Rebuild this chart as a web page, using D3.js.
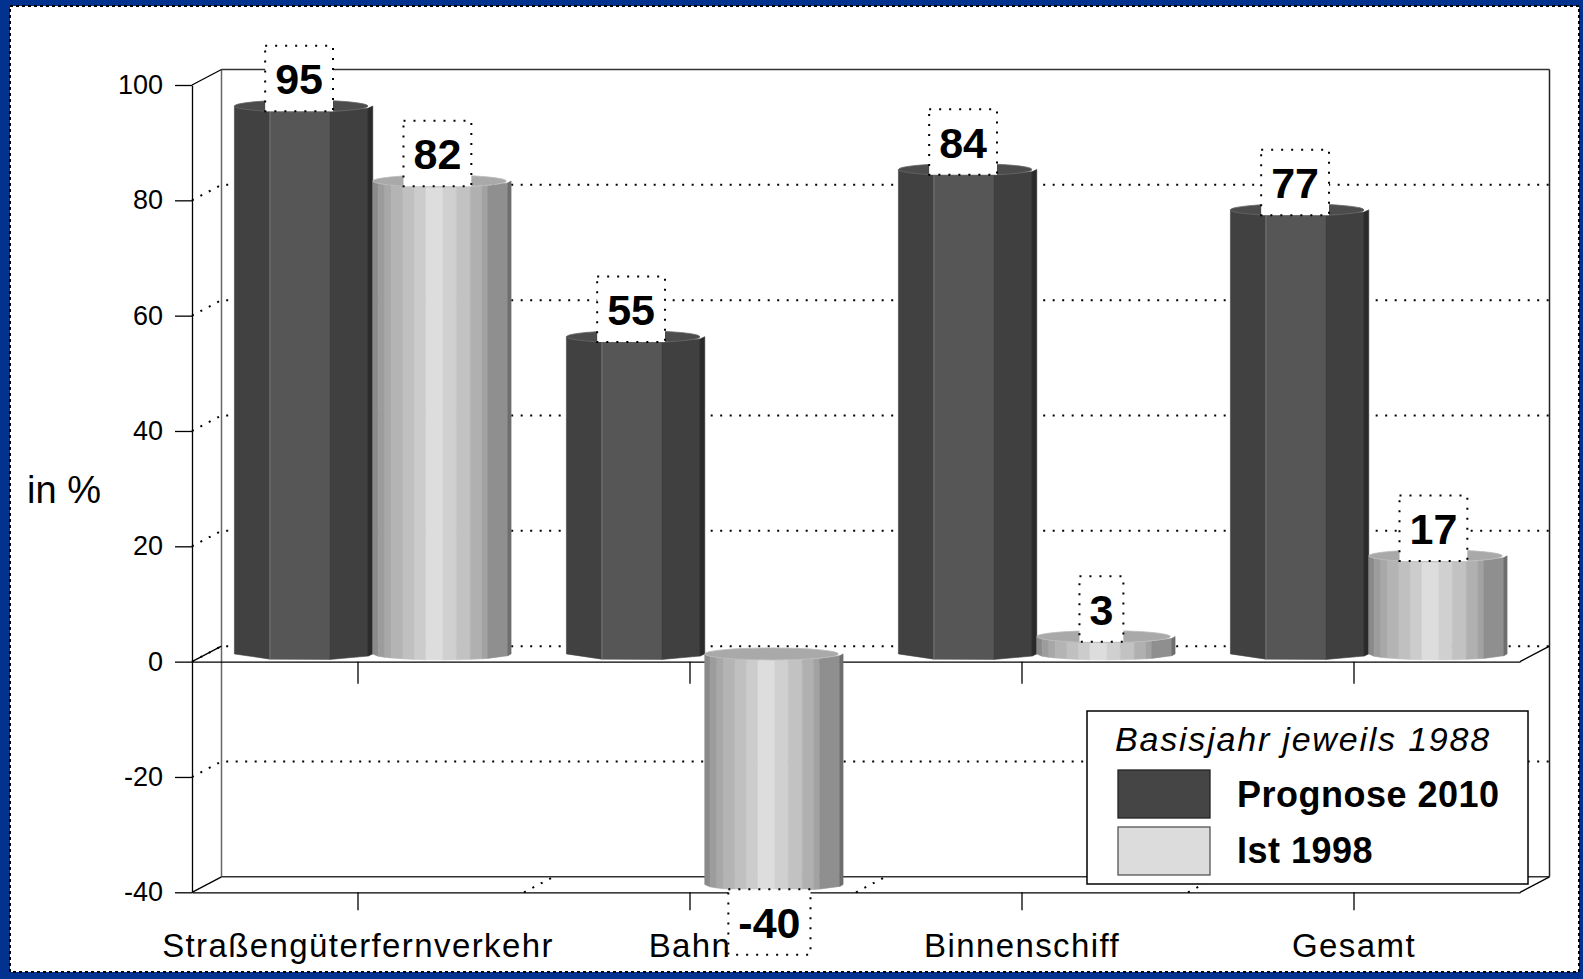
<!DOCTYPE html>
<html>
<head>
<meta charset="utf-8">
<script src="https://cdn.jsdelivr.net/npm/d3@7"></script>
<style>
  body { margin: 0; background: #01328f; }
  text { font-family: "Liberation Sans", Arial, sans-serif; }
</style>
</head>
<body>
<div id="chart"></div>
<script>
// Daten
var categories = ["Straßengüterfernverkehr", "Bahn", "Binnenschiff", "Gesamt"];
var seriesNames = ["Prognose 2010", "Ist 1998"];
var prognose2010 = [95, 55, 84, 77];
var ist1998 = [82, -40, 3, 17];
var yTicks = [-40, -20, 0, 20, 40, 60, 80, 100];
var gridValues = [80, 60, 40, 20, 0, -20];
var legendTitle = "Basisjahr jeweils 1988";
var yLabel = "in %";

// Grundmaße
var W = 1583, H = 979;
var frontLeft = 192, frontRight = 1520;
var depthX = 29.5, depthY = -15.5, ry = 6;

var svg = d3.select("#chart")
  .append("svg")
  .attr("width", W)
  .attr("height", H);

// blauer Rand + weiße Fläche mit gepunkteter Linie
svg.append("rect").attr("width", W).attr("height", H).attr("fill", "#01328f");
svg.append("rect")
  .attr("x", 10).attr("y", 6)
  .attr("width", 1569).attr("height", 966)
  .attr("fill", "white")
  .attr("stroke", "black")
  .attr("stroke-width", 2)
  .attr("stroke-dasharray", "3 3");

var y = d3.scaleLinear().domain([-40, 100]).range([892.3, 85]);
var x = d3.scaleBand().domain(categories).range([frontLeft, frontRight]);
var xs = d3.scaleBand().domain(seriesNames).range([0, x.bandwidth()]).paddingOuter(0.2);

var backLeft = frontLeft + depthX, backRight = frontRight + depthX;

// Rückwand
var wall = svg.append("g");
wall.append("line")
  .attr("x1", backLeft).attr("x2", backLeft)
  .attr("y1", y(100) + depthY).attr("y2", y(-40) + depthY)
  .attr("stroke", "#666").attr("stroke-width", 1.5);
wall.append("line")
  .attr("x1", backRight).attr("x2", backRight)
  .attr("y1", y(100) + depthY).attr("y2", y(-40) + depthY)
  .attr("stroke", "#222").attr("stroke-width", 1.5);
[100, -40].forEach(function(v) {
  wall.append("line")
    .attr("x1", backLeft).attr("x2", backRight)
    .attr("y1", y(v) + depthY).attr("y2", y(v) + depthY)
    .attr("stroke", "#333").attr("stroke-width", 1.5);
});

// Gitterlinien gepunktet (Seitenwand + Rückwand)
gridValues.forEach(function(v) {
  wall.append("path")
    .attr("d", "M" + frontLeft + "," + y(v) + "L" + backLeft + "," + (y(v) + depthY) + "L" + backRight + "," + (y(v) + depthY))
    .attr("fill", "none")
    .attr("stroke", "black")
    .attr("stroke-width", 2)
    .attr("stroke-dasharray", "2 7.5");
});

// Kanten links und rechts
[100, 0, -40].forEach(function(v) {
  wall.append("line")
    .attr("x1", frontLeft).attr("y1", y(v))
    .attr("x2", backLeft).attr("y2", y(v) + depthY)
    .attr("stroke", "black").attr("stroke-width", 1.3);
});
[0, -40].forEach(function(v) {
  wall.append("line")
    .attr("x1", frontRight).attr("y1", y(v))
    .attr("x2", backRight).attr("y2", y(v) + depthY)
    .attr("stroke", "black").attr("stroke-width", 1.3);
});

// gepunktete Bodenlinien zwischen Kategorien (bei -40)
categories.slice(1).forEach(function(c) {
  wall.append("line")
    .attr("x1", x(c)).attr("y1", y(-40))
    .attr("x2", x(c) + depthX).attr("y2", y(-40) + depthY)
    .attr("stroke", "black").attr("stroke-width", 2)
    .attr("stroke-dasharray", "2 7.5");
});

// y-Achse (Bindestrich statt Minuszeichen)
var yAxis = svg.append("g")
  .attr("transform", "translate(" + frontLeft + ",0)")
  .call(d3.axisLeft(y).tickValues(yTicks).tickSize(17).tickSizeOuter(0).tickPadding(12)
    .tickFormat(function(d) { return String(d); }));
yAxis.selectAll("text").attr("font-size", "27px").attr("fill", "black")
  .style("font-family", "'Liberation Sans', Arial, sans-serif");
yAxis.selectAll("line, path").attr("stroke", "black").attr("stroke-width", 1.3);

// Nulllinie mit Ticks
var zeroAxis = svg.append("g")
  .attr("transform", "translate(0," + y(0) + ")")
  .call(d3.axisBottom(x).tickSize(22).tickSizeOuter(0).tickFormat(""));
zeroAxis.selectAll("line, path").attr("stroke", "black").attr("stroke-width", 1.3);

// x-Achse unten
var xAxis = svg.append("g")
  .attr("transform", "translate(0," + y(-40) + ")")
  .call(d3.axisBottom(x).tickSize(18).tickSizeOuter(0).tickPadding(40));
xAxis.selectAll("line, path").attr("stroke", "black").attr("stroke-width", 1.3);
xAxis.selectAll("text")
  .attr("font-size", "33px")
  .attr("fill", "black")
  .attr("dy", null)
  .attr("y", 957 - y(-40))
  .style("letter-spacing", "1.4px")
  .style("font-family", "'Liberation Sans', Arial, sans-serif");

// Säulen (Zylinder)
var darkFaces = [0, 0.257, 0.689, 0.966, 1];
var darkColors = ["#414141", "#565656", "#404040", "#2a2a2a"];
var lightFaces = [0, .039, .087, .136, .218, .303, .385, .508, .605, .705, .789, .831, .976, 1];
var lightColors = ["#8a8a8a", "#9c9c9c", "#a8a8a8", "#b4b4b4", "#c0c0c0", "#cccccc", "#dddddd",
  "#d0d0d0", "#c2c2c2", "#b0b0b0", "#a2a2a2", "#8f8f8f", "#6e6e6e"];

var bars = [];
categories.forEach(function(c, i) {
  bars.push({ cat: c, series: seriesNames[0], value: prognose2010[i] });
  bars.push({ cat: c, series: seriesNames[1], value: ist1998[i] });
});

function ell(f) {
  var t = 2 * f - 1;
  return ry * Math.sqrt(Math.max(0, 1 - t * t));
}

var barG = svg.append("g");
bars.forEach(function(d) {
  var x0 = x(d.cat) + xs(d.series) + depthX / 2;
  var w = xs.bandwidth();
  var vTop = Math.max(d.value, 0), vBot = Math.min(d.value, 0);
  var cTop = y(vTop) + depthY / 2, cBot = y(vBot) + depthY / 2;
  var dark = d.series === seriesNames[0];
  var faces = dark ? darkFaces : lightFaces;
  var cols = dark ? darkColors : lightColors;
  var g = barG.append("g");
  for (var i = 0; i < cols.length; i++) {
    var f0 = faces[i], f1 = faces[i + 1];
    var xa = x0 + f0 * w, xb = x0 + f1 * w;
    var pts = [[xa, cTop + ell(f0)], [xb, cTop + ell(f1)], [xb, cBot + ell(f1)], [xa, cBot + ell(f0)]];
    g.append("polygon")
      .attr("points", pts.map(function(p) { return p.join(","); }).join(" "))
      .attr("fill", cols[i])
      .attr("stroke", cols[i])
      .attr("stroke-width", 0.6);
  }
  if (dark) {
    g.append("line")
      .attr("x1", x0 + 0.257 * w).attr("x2", x0 + 0.257 * w)
      .attr("y1", cTop + ell(0.257)).attr("y2", cBot + ell(0.257))
      .attr("stroke", "#777").attr("stroke-width", 1);
  }
  // Deckel
  g.append("ellipse")
    .attr("cx", x0 + w * 0.483).attr("cy", cTop)
    .attr("rx", w * 0.483).attr("ry", ry)
    .attr("fill", dark ? "#4c4c4c" : "#a9a9a9")
    .attr("stroke", dark ? "#666" : "#bdbdbd")
    .attr("stroke-width", 0.8);
});

// Wertbeschriftungen in gepunkteten Kästchen
var labelG = svg.append("g");
bars.forEach(function(d) {
  var cx = x(d.cat) + xs(d.series) + depthX / 2 + xs.bandwidth() / 2 - 4.5;
  var boxH = 65.5;
  var top = d.value >= 0 ? y(d.value) - 2.5 - boxH : y(d.value) - 3;
  var g = labelG.append("g");
  var rect = g.append("rect");
  var t = g.append("text")
    .attr("x", cx)
    .attr("y", top + 48.5)
    .attr("text-anchor", "middle")
    .attr("font-size", "43px")
    .attr("font-weight", "bold")
    .attr("fill", "black")
    .text(d.value);
  var tw = t.node().getComputedTextLength();
  rect.attr("x", cx - tw / 2 - 10)
    .attr("y", top)
    .attr("width", tw + 20)
    .attr("height", boxH)
    .attr("fill", "white")
    .attr("stroke", "black")
    .attr("stroke-width", 2)
    .attr("stroke-dasharray", "2 8");
});

// Achsentitel
svg.append("text")
  .attr("x", 27)
  .attr("y", 503)
  .attr("font-size", "38px")
  .attr("fill", "black")
  .text(yLabel);

// Legende
var legend = svg.append("g");
legend.append("rect")
  .attr("x", 1087).attr("y", 711)
  .attr("width", 441).attr("height", 173)
  .attr("fill", "white")
  .attr("stroke", "black")
  .attr("stroke-width", 1.5);
legend.append("text")
  .attr("x", 1115).attr("y", 751)
  .attr("font-size", "34px")
  .attr("font-style", "italic")
  .style("letter-spacing", "1.8px")
  .attr("fill", "black")
  .text(legendTitle);
var swatch = ["#454545", "#dcdcdc"];
var swatchStroke = ["#222", "#555"];
seriesNames.forEach(function(s, i) {
  legend.append("rect")
    .attr("x", 1118).attr("y", 770 + i * 57)
    .attr("width", 92).attr("height", 48)
    .attr("fill", swatch[i])
    .attr("stroke", swatchStroke[i])
    .attr("stroke-width", 1.3);
  legend.append("text")
    .attr("x", 1237).attr("y", 807 + i * 56)
    .attr("font-size", "36px")
    .attr("font-weight", "bold")
    .style("letter-spacing", "0.5px")
    .attr("fill", "black")
    .text(s);
});
</script>
</body>
</html>
